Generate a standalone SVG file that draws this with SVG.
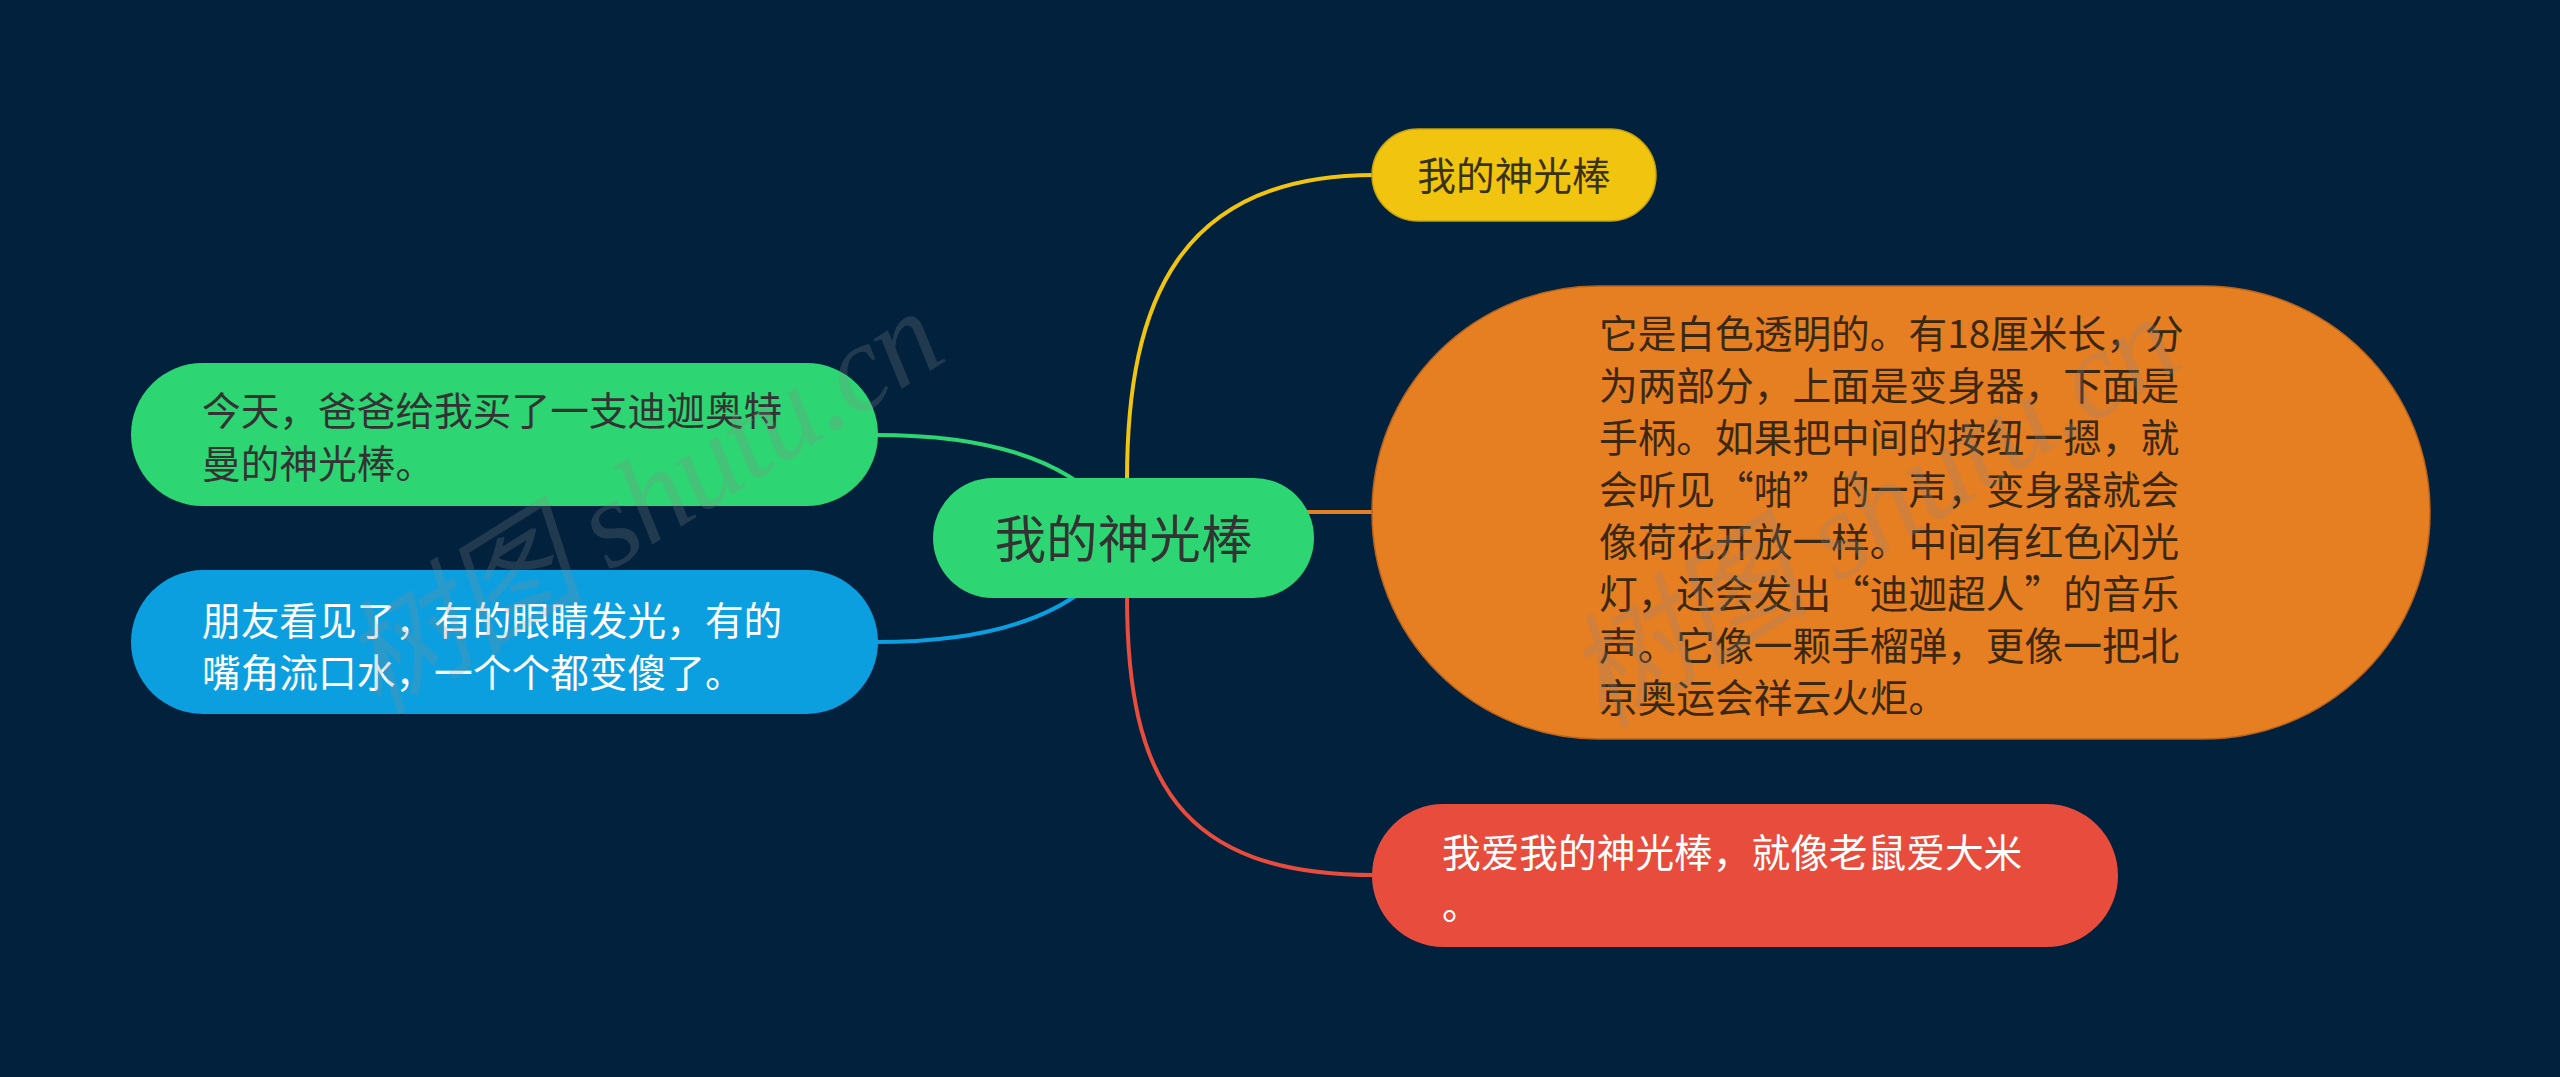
<svg xmlns="http://www.w3.org/2000/svg" width="2560" height="1077" viewBox="0 0 2560 1077">
  <style>
    .t { font-family: 'Noto Sans CJK SC', 'Noto Sans', sans-serif; font-size: 38.7px; }
    .dark { fill: #333333; }
    .brown { fill: #3a2812; }
    .white { fill: #ffffff; }
    .conn { fill: none; stroke-width: 4; stroke-linecap: round; }
    .wm { font-family: 'Liberation Serif', 'Noto Sans CJK SC', serif; font-style: italic; font-size: 124px; fill: #8a8a8a; fill-opacity: 0.24; }
  </style>
  <rect x="0" y="0" width="2560" height="1077" fill="#01213d"/>

  <g id="connectors">
    <path class="conn" stroke="#f1c40f" d="M1127,480 C1127,300 1180,175 1374,175"/>
    <path class="conn" stroke="#e67e22" d="M1300,512 H1374"/>
    <path class="conn" stroke="#e74c3c" d="M1127,596 C1127,780 1180,875 1374,875"/>
    <path class="conn" stroke="#2ed573" d="M876,435 C1000,435 1090,465 1127,538"/>
    <path class="conn" stroke="#0c9fe0" d="M876,642 C1000,642 1090,611 1127,538"/>
  </g>

  <g id="node-root">
    <rect x="933" y="478" width="381" height="120" rx="60" fill="#2ed573"/>
    <text class="dark" x="1123.5" y="558" text-anchor="middle" style="font-family:'Noto Sans CJK SC','Noto Sans',sans-serif;font-size:51.6px">我的神光棒</text>
  </g>

  <g id="node-yellow">
    <rect x="1372" y="129" width="284" height="92" rx="46" fill="#f1c40f" stroke="#c9a30c" stroke-width="1.5"/>
    <text class="t" x="1514" y="190" text-anchor="middle" fill="#3a3210">我的神光棒</text>
  </g>

  <g id="node-orange">
    <rect x="1372" y="286" width="1058" height="453" rx="226" fill="#e67e22" stroke="#b8621a" stroke-width="1.5"/>
    <text class="t brown">
      <tspan x="1599" y="348">它是白色透明的。有18厘米长，分</tspan>
      <tspan x="1599" y="400">为两部分，上面是变身器，下面是</tspan>
      <tspan x="1599" y="452">手柄。如果把中间的按纽一摁，就</tspan>
      <tspan x="1599" y="504">会听见“啪”的一声，变身器就会</tspan>
      <tspan x="1599" y="556">像荷花开放一样。中间有红色闪光</tspan>
      <tspan x="1599" y="608">灯，还会发出“迪迦超人”的音乐</tspan>
      <tspan x="1599" y="660">声。它像一颗手榴弹，更像一把北</tspan>
      <tspan x="1599" y="712">京奥运会祥云火炬。</tspan>
    </text>
  </g>

  <g id="node-red">
    <rect x="1372" y="804" width="746" height="143" rx="71.5" fill="#e74c3c"/>
    <text class="t white">
      <tspan x="1442" y="867">我爱我的神光棒，就像老鼠爱大米</tspan>
      <tspan x="1442" y="919">。</tspan>
    </text>
  </g>

  <g id="node-green">
    <rect x="131" y="363" width="747" height="143" rx="71.5" fill="#2ed573"/>
    <text class="t dark">
      <tspan x="202" y="425">今天，爸爸给我买了一支迪迦奥特</tspan>
      <tspan x="202" y="478">曼的神光棒。</tspan>
    </text>
  </g>

  <g id="node-blue">
    <rect x="131" y="570" width="747" height="144" rx="72" fill="#0c9fe0"/>
    <text class="t white">
      <tspan x="202" y="635">朋友看见了，有的眼睛发光，有的</tspan>
      <tspan x="202" y="687">嘴角流口水，一个个都变傻了。</tspan>
    </text>
  </g>

  <g id="watermarks">
    <text class="wm" transform="translate(378,716) rotate(-32)" textLength="675" lengthAdjust="spacing">树图 shutu.cn</text>
    <text class="wm" transform="translate(1602,730) rotate(-32)" textLength="690" lengthAdjust="spacing">树图 shutu.cn</text>
  </g>
</svg>
